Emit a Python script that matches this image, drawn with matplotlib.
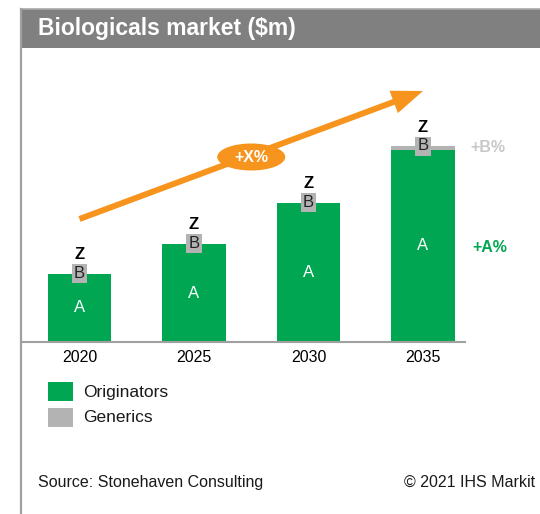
import matplotlib
matplotlib.use("Agg")
import matplotlib.pyplot as plt
from matplotlib.patches import Rectangle, Ellipse, FancyArrowPatch, ArrowStyle
from matplotlib.lines import Line2D

plt.rcParams['font.family'] = ['Liberation Sans', 'DejaVu Sans']

# Market data (relative sizes)
years = ["2020", "2025", "2030", "2035"]
originators = [68, 98, 139, 192]
generics = [0.3, 0.3, 0.3, 4]
seg_a_labels = ["A", "A", "A", "A"]
seg_b_labels = ["B", "B", "B", "B"]
total_labels = ["Z", "Z", "Z", "Z"]
growth_label = "+X%"
side_labels = ["+A%", "+B%"]
legend_names = ["Originators", "Generics"]

GREEN = "#00A651"
GREY = "#B3B3B3"
ORANGE = "#F7941D"
FRAME = "#A0A0A0"

W, H = 540, 514
fig = plt.figure(figsize=(W / 100, H / 100), dpi=100)


def fx(px):
    return px / W


def fy(py):
    return 1 - py / H


# header bar and frame
fig.patches.append(Rectangle((fx(21), fy(48)), 1 - fx(21), fy(9) - fy(48),
                             transform=fig.transFigure, facecolor="#808080",
                             edgecolor="none", zorder=0))
fig.lines.append(Line2D([fx(21), 1], [fy(9), fy(9)], transform=fig.transFigure,
                        color="#A8A8A8", lw=1.2))
fig.lines.append(Line2D([fx(21), fx(21)], [0, fy(9)], transform=fig.transFigure,
                        color=FRAME, lw=1.6))
fig.text(fx(38), fy(29), "Biologicals market ($m)", color="white",
         fontsize=16.5, fontweight="bold", va="center", ha="left")

# bar axes
ax = fig.add_axes([fx(21), fy(342), fx(465) - fx(21), fy(48) - fy(342)])
x = list(range(len(years)))
ax.set_xlim(-0.511, 3.367)
ax.set_ylim(0, 294)
width = 0.555
ax.bar(x, originators, width=width, color=GREEN, zorder=2)
ax.bar(x, generics, width=width, bottom=originators, color=GREY, zorder=2)

for i in x:
    total = originators[i] + generics[i]
    ax.text(i, originators[i] / 2, seg_a_labels[i], color="white",
            fontsize=12, ha="center", va="center", zorder=4)
    ax.text(i, total, seg_b_labels[i], color="#222222", fontsize=12,
            ha="center", va="center", zorder=4,
            bbox=dict(boxstyle="square,pad=0.12", facecolor=GREY, edgecolor="none"))
    ax.text(i, total + 19, total_labels[i], color="black", fontsize=12,
            fontweight="bold", ha="center", va="center", zorder=4)

# growth arrow
arrow = FancyArrowPatch((0, 123), (3, 251),
                        arrowstyle=ArrowStyle("-|>", head_length=1.1, head_width=0.42),
                        mutation_scale=13, color=ORANGE, lw=4.3,
                        shrinkA=0, shrinkB=0, joinstyle="miter", capstyle="butt",
                        zorder=3)
ax.add_patch(arrow)
ax.add_patch(Ellipse((1.5, 185), 0.594, 27, facecolor=ORANGE, edgecolor="none", zorder=4))
ax.text(1.5, 185, growth_label, color="white", fontsize=11.5, fontweight="bold",
        ha="center", va="center", zorder=5)

ax.set_xticks(x)
ax.set_xticklabels(years, fontsize=11.5)
ax.tick_params(axis="x", length=0, pad=6)
ax.set_yticks([])
for side in ("left", "right", "top"):
    ax.spines[side].set_visible(False)
ax.spines["bottom"].set_color(FRAME)
ax.spines["bottom"].set_linewidth(1.5)
ax.patch.set_alpha(0)

# growth rates beside the last bar
fig.text(fx(472), fy(247), side_labels[0], color=GREEN, fontsize=11.5,
         fontweight="bold", ha="left", va="center")
fig.text(fx(470), fy(147), side_labels[1], color="#C8C8C8", fontsize=11.5,
         fontweight="bold", ha="left", va="center")

# legend
for k, (name, col) in enumerate(zip(legend_names, [GREEN, GREY])):
    top = 382 + k * 26
    fig.patches.append(Rectangle((fx(48), fy(top + 19)), fx(73) - fx(48), fy(top) - fy(top + 19),
                                 transform=fig.transFigure, facecolor=col, edgecolor="none"))
    fig.text(fx(83), fy(top + 10), name, fontsize=12.5, ha="left", va="center",
             color="#1A1A1A")

# footer
fig.text(fx(38), fy(482), "Source: Stonehaven Consulting", fontsize=11.5,
         ha="left", va="center", color="#1A1A1A")
fig.text(fx(535), fy(482), "© 2021 IHS Markit", fontsize=11.5,
         ha="right", va="center", color="#1A1A1A")

fig.savefig("out.png", dpi=100)
